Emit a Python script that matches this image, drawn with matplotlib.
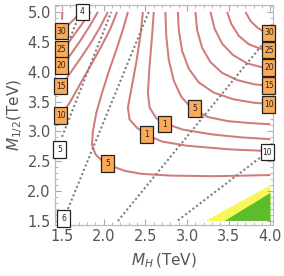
import matplotlib
matplotlib.use("Agg")
import matplotlib.pyplot as plt
from matplotlib.patches import Rectangle
from matplotlib.transforms import ScaledTranslation
from matplotlib.ticker import MultipleLocator

plt.rcParams['font.family'] = ['DejaVu Sans']
plt.rcParams['mathtext.fontset'] = 'dejavusans'

# ---- red contour lines ----
in30_x = [3.70, 3.76, 3.84, 3.92, 4.0]
in30_y = [5.0, 4.85, 4.74, 4.67, 4.63]
in25_x = [3.48, 3.53, 3.62, 3.74, 3.87, 4.0]
in25_y = [5.0, 4.80, 4.60, 4.46, 4.39, 4.35]
in20_x = [3.28, 3.33, 3.42, 3.55, 3.72, 3.88, 4.0]
in20_y = [5.0, 4.72, 4.47, 4.28, 4.14, 4.08, 4.06]
in15_x = [3.10, 3.12, 3.18, 3.28, 3.42, 3.60, 3.80, 4.0]
in15_y = [5.0, 4.70, 4.40, 4.16, 3.98, 3.86, 3.79, 3.76]
in10_x = [2.89, 2.90, 2.94, 3.02, 3.14, 3.32, 3.55, 3.80, 4.0]
in10_y = [5.0, 4.70, 4.35, 4.05, 3.82, 3.65, 3.54, 3.48, 3.46]
in5_x = [2.74, 2.75, 2.78, 2.84, 2.93, 3.06, 3.25, 3.50, 3.75, 4.0]
in5_y = [5.0, 4.60, 4.20, 3.85, 3.58, 3.38, 3.24, 3.17, 3.14, 3.12]
in1_x = [2.60, 2.58, 2.55, 2.53, 2.55, 2.63, 2.74, 2.95, 3.30, 3.65, 4.0]
in1_y = [5.0, 4.60, 4.10, 3.65, 3.40, 3.22, 3.13, 3.03, 2.95, 2.90, 2.87]
out1_x = [2.47, 2.44, 2.39, 2.33, 2.29, 2.31, 2.40, 2.52, 2.70, 3.00, 3.50, 4.0]
out1_y = [5.0, 4.60, 4.15, 3.70, 3.40, 3.20, 3.06, 2.94, 2.83, 2.76, 2.70, 2.67]
out5_x = [2.29, 2.24, 2.16, 2.06, 1.97, 1.91, 1.87, 1.86, 1.90, 1.97, 2.08, 2.25,
          2.45, 2.80, 3.30, 3.70, 4.0]
out5_y = [5.0, 4.75, 4.40, 4.00, 3.60, 3.30, 3.00, 2.78, 2.62, 2.52, 2.43, 2.34,
          2.29, 2.26, 2.25, 2.26, 2.27]
out10_x = [1.50, 1.60, 1.72, 1.85, 1.97, 2.08, 2.16]
out10_y = [3.28, 3.50, 3.80, 4.12, 4.42, 4.72, 5.0]
out15_x = [1.50, 1.60, 1.72, 1.84, 1.95, 2.05]
out15_y = [3.77, 3.98, 4.22, 4.47, 4.73, 5.0]
out20_x = [1.50, 1.60, 1.72, 1.83, 1.93]
out20_y = [4.10, 4.28, 4.52, 4.76, 5.0]
out25_x = [1.50, 1.60, 1.71, 1.84]
out25_y = [4.37, 4.53, 4.74, 5.0]
out30_x = [1.50, 1.58, 1.66, 1.73]
out30_y = [4.67, 4.79, 4.90, 5.0]
out35_x = [1.500, 1.505]
out35_y = [4.87, 5.0]

red_curves = [(in30_x, in30_y), (in25_x, in25_y), (in20_x, in20_y), (in15_x, in15_y),
              (in10_x, in10_y), (in5_x, in5_y), (in1_x, in1_y), (out1_x, out1_y),
              (out5_x, out5_y), (out10_x, out10_y), (out15_x, out15_y),
              (out20_x, out20_y), (out25_x, out25_y), (out30_x, out30_y),
              (out35_x, out35_y)]

# ---- gray dotted lines ----
dot4_x = [1.50, 1.72]
dot4_y = [4.21, 5.0]
dot5_x = [1.50, 2.09]
dot5_y = [2.91, 5.0]
dot6_x = [1.55, 2.54]
dot6_y = [1.63, 5.0]
dotA_x = [2.17, 4.0]
dotA_y = [1.50, 4.62]
dot10_x = [2.89, 3.95]
dot10_y = [1.51, 2.64]
dotted = [(dot4_x, dot4_y), (dot5_x, dot5_y), (dot6_x, dot6_y),
          (dotA_x, dotA_y), (dot10_x, dot10_y)]

# ---- filled regions ----
yellow_x = [3.22, 4.0, 4.0]
yellow_y = [1.5, 2.10, 1.5]
green_x = [3.45, 4.0, 4.0]
green_y = [1.5, 1.97, 1.5]

# ---- labels ----
orange_labels = ['30', '25', '20', '15', '10', '30', '25', '20', '15', '10', '5', '1', '1', '5']
orange_x = [1.49, 1.49, 1.49, 1.485, 1.485, 3.98, 3.98, 3.98, 3.98, 3.98, 2.05, 2.51, 2.73, 3.09]
orange_y = [4.68, 4.37, 4.10, 3.76, 3.27, 4.65, 4.36, 4.07, 3.77, 3.45, 2.46, 2.95, 3.12, 3.38]
white_labels = ['4', '5', '6', '10']
white_x = [1.746, 1.47, 1.52, 3.96]
white_y = [5.0, 2.70, 1.54, 2.655]

W, H = 284, 276
fig = plt.figure(figsize=(W / 100, H / 100), dpi=100)
left, right, top, bottom = 55, 273, 5, 224.5
ax = fig.add_axes([left / W, (H - bottom) / H, (right - left) / W, (bottom - top) / H])
ax.set_xlim(1.416, 4.030)
ax.set_ylim(1.441, 5.117)

ax.fill(yellow_x, yellow_y, color='#f7f75a', lw=0, zorder=1)
ax.fill(green_x, green_y, color='#5cbd2c', lw=0, zorder=1.1)

for xs, ys in red_curves:
    ax.plot(xs, ys, color='#d27b7b', lw=1.45, solid_capstyle='butt', zorder=2)

for xs, ys in dotted:
    ax.plot(xs, ys, color='#7f7f7f', lw=1.5, linestyle=(0, (1.0, 1.2)),
            dash_capstyle='butt', zorder=3)

bw, bh = 0.13, 0.165


def box(x, y, s, fc):
    tr = fig.dpi_scale_trans + ScaledTranslation(x, y, ax.transData)
    r = Rectangle((-bw / 2, -bh / 2), bw, bh, transform=tr, facecolor=fc,
                  edgecolor='#222222', lw=0.9, zorder=5, clip_on=False)
    ax.add_patch(r)
    ax.text(x, y, s, ha='center', va='center', fontsize=5.5, color='#222222',
            zorder=6, clip_on=False)


for s, x, y in zip(orange_labels, orange_x, orange_y):
    box(x, y, s, '#fbab57')
for s, x, y in zip(white_labels, white_x, white_y):
    box(x, y, s, 'white')

ax.xaxis.set_major_locator(MultipleLocator(0.5))
ax.xaxis.set_minor_locator(MultipleLocator(0.1))
ax.yaxis.set_major_locator(MultipleLocator(0.5))
ax.yaxis.set_minor_locator(MultipleLocator(0.1))
ax.set_xticks([1.5, 2.0, 2.5, 3.0, 3.5, 4.0])
ax.set_xticklabels(['1.5', '2.0', '2.5', '3.0', '3.5', '4.0'])
ax.set_yticks([1.5, 2.0, 2.5, 3.0, 3.5, 4.0, 4.5, 5.0])
ax.set_yticklabels(['1.5', '2.0', '2.5', '3.0', '3.5', '4.0', '4.5', '5.0'])
ax.tick_params(which='both', direction='in', top=True, right=True, color='#aaaaaa',
               labelcolor='#555555', labelsize=10.5, pad=3)
ax.tick_params(which='major', length=4, width=0.8)
ax.tick_params(which='minor', length=2, width=0.6)
for sp in ax.spines.values():
    sp.set_color('#bbbbbb')
    sp.set_linewidth(0.9)

ax.set_xlabel(r'$M_H\,$(TeV)', fontsize=11, color='#555555', labelpad=6)
ax.set_ylabel(r'$M_{1/2}$(TeV)', fontsize=11, color='#555555', labelpad=2)

fig.savefig('out.png', dpi=100)
